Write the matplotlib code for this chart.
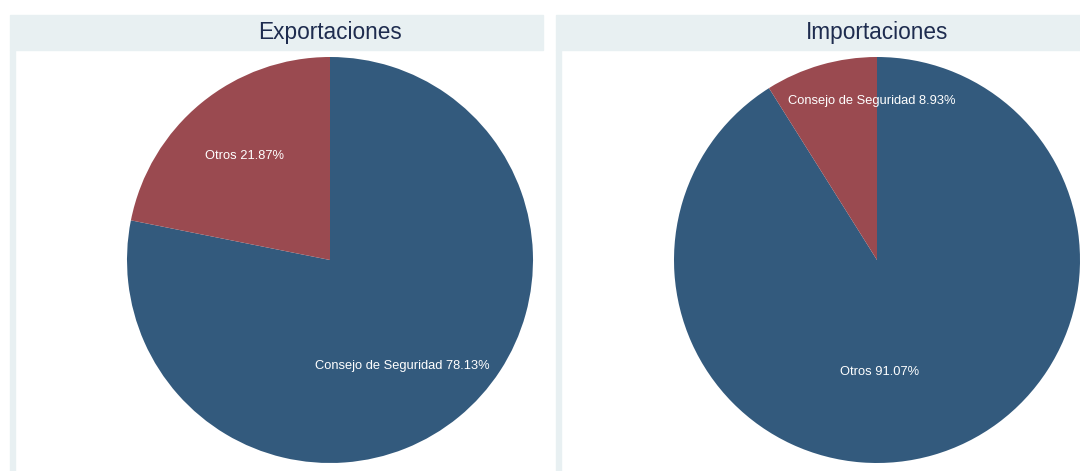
import matplotlib.pyplot as plt
from matplotlib.patches import Rectangle

# pie data, one list per panel
titles = ["Exportaciones", "Importaciones"]
exp_labels = ["Consejo de Seguridad", "Otros"]
exp_values = [78.13, 21.87]
imp_labels = ["Otros", "Consejo de Seguridad"]
imp_values = [91.07, 8.93]

colors = ["#335a7d", "#9a4a50"]
band = "#e8f0f2"
title_col = "#1e2c4f"

W, H = 1080, 471
fig = plt.figure(figsize=(W / 100, H / 100), dpi=100)

def px(x0, y0, x1, y1):
    # pixel box (top-left origin) -> figure fraction rect
    return [x0 / W, 1 - y1 / H, (x1 - x0) / W, (y1 - y0) / H]

# label spots, in units of pie radius
label_spots = [[(0.355, -0.52), (-0.42, 0.51)],
               [(0.015, -0.55), (-0.025, 0.785)]]

panels = [(10, 543, 127, exp_labels, exp_values),
          (556, 1090, 674, imp_labels, imp_values)]
for k, (x0, x1, left, labels, values) in enumerate(panels):
    # panel frame: title band + thin left strip
    r = px(x0, 15, x1, 50)
    fig.patches.append(Rectangle((r[0], r[1]), r[2], r[3], transform=fig.transFigure,
                                 color=band, zorder=0))
    r2 = px(x0, 50, x0 + 5, H)
    fig.patches.append(Rectangle((r2[0], r2[1]), r2[2], r2[3], transform=fig.transFigure,
                                 color=band, zorder=0))
    fig.text((left + 203) / W, 1 - 33 / H, titles[k], ha="center", va="center",
             fontsize=16.3, color=title_col, family="Liberation Sans")

    ax = fig.add_axes(px(left, 57, left + 406, 463))
    ax.pie(values, colors=colors, startangle=90, counterclock=False, radius=1,
           wedgeprops=dict(linewidth=0))
    ax.set_xlim(-1, 1)
    ax.set_ylim(-1, 1)
    ax.set_aspect("auto")
    ax.axis("off")
    for (lx, ly), lab, v in zip(label_spots[k], labels, values):
        ax.text(lx, ly, "%s %.2f%%" % (lab, v), ha="center", va="center",
                fontsize=9.3, color="white", family="Liberation Sans")

fig.savefig("out.png", dpi=100)
